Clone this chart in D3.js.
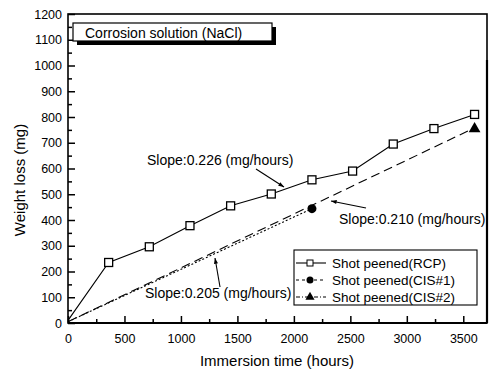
<!DOCTYPE html>
<html><head><meta charset="utf-8">
<script src="https://cdn.jsdelivr.net/npm/d3@7"></script>
<style>body{margin:0;background:#fff}svg{display:block}text{font-family:"Liberation Sans",Arial,sans-serif;fill:#000}</style>
</head><body><svg id="c" width="489" height="371"></svg>
<script>
const rcpX = [0, 360, 720, 1080, 1440, 1800, 2160, 2520, 2880, 3240, 3600];
const rcpY = [10, 235, 296, 378, 455, 501, 556, 590, 695, 755, 810];
const cis1X = [0, 2160];
const cis1Y = [5, 444];
const cis2X = [0, 3600];
const cis2Y = [5, 758];
const xTicks = [0, 500, 1000, 1500, 2000, 2500, 3000, 3500];
const yTicks = [0, 100, 200, 300, 400, 500, 600, 700, 800, 900, 1000, 1100, 1200];
const legendLabels = ["Shot peened(RCP)", "Shot peened(CIS#1)", "Shot peened(CIS#2)"];
const titleText = "Corrosion solution (NaCl)";
const slopeLabels = ["Slope:0.226 (mg/hours)", "Slope:0.210 (mg/hours)", "Slope:0.205 (mg/hours)"];

const svg = d3.select("#c");
const L = 68, R = 487, T = 14, B = 323;
const x = d3.scaleLinear().domain([0, 3710]).range([L, R]);
const y = d3.scaleLinear().domain([0, 1200]).range([B, T]);

// frame
svg.append("rect").attr("x", L).attr("y", T).attr("width", R - L).attr("height", B - T)
  .attr("fill", "none").attr("stroke", "#000").attr("stroke-width", 1.6);
svg.append("line").attr("x1", L).attr("x2", R).attr("y1", B).attr("y2", B).attr("stroke", "#000").attr("stroke-width", 2);
svg.append("line").attr("x1", R).attr("x2", R).attr("y1", 60).attr("y2", B).attr("stroke", "#000").attr("stroke-width", 2.2);

// axes with inward ticks
const xAx = svg.append("g").attr("transform", `translate(0,${B})`)
  .call(d3.axisBottom(x).tickValues(xTicks).tickSize(-7).tickPadding(11).tickFormat(d3.format("d")));
const xMinor = svg.append("g").attr("transform", `translate(0,${B})`)
  .call(d3.axisBottom(x).tickValues(d3.range(250, 3700, 500)).tickSize(-4).tickFormat(""));
const yAx = svg.append("g").attr("transform", `translate(${L},0)`)
  .call(d3.axisLeft(y).tickValues(yTicks).tickSize(-7).tickPadding(6).tickFormat(d3.format("d")));
const yMinor = svg.append("g").attr("transform", `translate(${L},0)`)
  .call(d3.axisLeft(y).tickValues(d3.range(50, 1200, 100)).tickSize(-4).tickFormat(""));
[xAx, xMinor, yAx, yMinor].forEach(g => {
  g.select(".domain").remove();
  g.selectAll("line").attr("stroke", "#000").attr("stroke-width", 1.5);
  g.selectAll("text").attr("font-size", 12.5).attr("font-family", "Liberation Sans, Arial, sans-serif").attr("fill", "#000");
});

// axis titles
svg.append("text").attr("x", 277).attr("y", 366).attr("text-anchor", "middle").attr("font-size", 15).text("Immersion time (hours)");
svg.append("text").attr("transform", "translate(25,180) rotate(-90)").attr("text-anchor", "middle").attr("font-size", 15).text("Weight loss (mg)");

// lines
const line = d3.line().x(d => x(d[0])).y(d => y(d[1]));
const rcp = rcpX.map((v, i) => [v, rcpY[i]]);
const cis1 = cis1X.map((v, i) => [v, cis1Y[i]]);
const cis2 = cis2X.map((v, i) => [v, cis2Y[i]]);
svg.append("path").datum(rcp).attr("d", line).attr("fill", "none").attr("stroke", "#000").attr("stroke-width", 1.1);
svg.append("path").datum(cis1).attr("d", line).attr("fill", "none").attr("stroke", "#000").attr("stroke-width", 1.1).attr("stroke-dasharray", "2,2");
svg.append("path").datum(cis2).attr("d", line).attr("fill", "none").attr("stroke", "#000").attr("stroke-width", 1.1).attr("stroke-dasharray", "9,5");

// markers
svg.selectAll(".sq").data(rcp.slice(1)).enter().append("rect")
  .attr("x", d => x(d[0]) - 4).attr("y", d => y(d[1]) - 4).attr("width", 8).attr("height", 8)
  .attr("fill", "#fff").attr("stroke", "#000").attr("stroke-width", 1.3);
svg.selectAll(".ci").data(cis1.slice(1)).enter().append("circle")
  .attr("cx", d => x(d[0])).attr("cy", d => y(d[1])).attr("r", 4.5).attr("fill", "#000");
const tri = d3.symbol().type(d3.symbolTriangle).size(60);
svg.selectAll(".tr").data(cis2.slice(1)).enter().append("path")
  .attr("d", tri).attr("transform", d => `translate(${x(d[0])},${y(d[1]) + 1})`).attr("fill", "#000");

// title box with shadow
svg.append("rect").attr("x", 77).attr("y", 27).attr("width", 199).attr("height", 18).attr("fill", "#000");
svg.append("rect").attr("x", 73).attr("y", 23).attr("width", 199).attr("height", 18).attr("fill", "#fff").attr("stroke", "#000").attr("stroke-width", 1.2);
svg.append("text").attr("x", 85).attr("y", 37.5).attr("font-size", 14).text(titleText);

// slope annotations
function arrow(x1, y1, x2, y2) {
  svg.append("line").attr("x1", x1).attr("y1", y1).attr("x2", x2).attr("y2", y2).attr("stroke", "#000").attr("stroke-width", 1.1);
  const a = Math.atan2(y2 - y1, x2 - x1), s = 6;
  const p = [[x2, y2], [x2 - s * Math.cos(a - 0.35), y2 - s * Math.sin(a - 0.35)], [x2 - s * Math.cos(a + 0.35), y2 - s * Math.sin(a + 0.35)]];
  svg.append("path").attr("d", "M" + p.join("L") + "Z").attr("fill", "#000");
}
svg.append("text").attr("x", 147).attr("y", 165).attr("font-size", 14).text(slopeLabels[0]);
arrow(256, 169, 284, 187);
svg.append("text").attr("x", 339).attr("y", 224).attr("font-size", 14).text(slopeLabels[1]);
arrow(366, 208, 331, 201);
svg.append("text").attr("x", 145).attr("y", 298).attr("font-size", 14).text(slopeLabels[2]);
arrow(220, 287, 215, 258);

// legend
const lg = svg.append("g");
lg.append("rect").attr("x", 294).attr("y", 250).attr("width", 183).attr("height", 55).attr("fill", "#fff").attr("stroke", "#000").attr("stroke-width", 1.1);
const dashes = [null, "3,3", "4,2,1,2"];
legendLabels.forEach((t, i) => {
  const yy = 263 + i * 17;
  lg.append("line").attr("x1", 296).attr("x2", 326).attr("y1", yy).attr("y2", yy).attr("stroke", "#000").attr("stroke-width", 1.1).attr("stroke-dasharray", dashes[i]);
  if (i === 0) lg.append("rect").attr("x", 307).attr("y", yy - 3).attr("width", 6).attr("height", 6).attr("fill", "#fff").attr("stroke", "#000");
  if (i === 1) lg.append("circle").attr("cx", 310).attr("cy", yy).attr("r", 3.5).attr("fill", "#000");
  if (i === 2) lg.append("path").attr("d", d3.symbol().type(d3.symbolTriangle).size(36)).attr("transform", `translate(310,${yy})`).attr("fill", "#000");
  lg.append("text").attr("x", 332).attr("y", yy + 5).attr("font-size", 13.5).text(t);
});
</script></body></html>
